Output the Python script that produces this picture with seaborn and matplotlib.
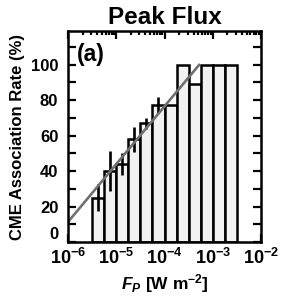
import numpy as np
import pandas as pd
import matplotlib
matplotlib.use("Agg")
import matplotlib.pyplot as plt
import seaborn as sns
from matplotlib.ticker import LogLocator, MultipleLocator, FixedLocator, NullFormatter

# ---- data ----
bin_log_range = (-5.5, -2.5)
bin_log_width = 0.25
bin_centers = [4.22e-6, 7.50e-6, 1.33e-5, 2.37e-5, 4.22e-5, 7.50e-5, 1.33e-4,
               2.37e-4, 4.22e-4, 7.50e-4, 1.33e-3, 2.37e-3]
rate = [25, 40, 44, 58, 67, 77, 77, 100, 89, 100, 100, 100]
rate_err = [7.5, 11.5, 6, 7, 3, 4.5, 0, 0, 0, 0, 0, 0]
fit_x = [1.0e-6, 5.25e-4]
fit_y = [11.3, 100.0]
xtick_vals = [1e-6, 1e-5, 1e-4, 1e-3, 1e-2]
xtick_labels = [r"$\mathbf{10^{-6}}$", r"$\mathbf{10^{-5}}$", r"$\mathbf{10^{-4}}$",
                r"$\mathbf{10^{-3}}$", r"$\mathbf{10^{-2}}$"]

sns.set_style("ticks")
plt.rcParams["font.family"] = ["Liberation Sans", "DejaVu Sans"]
plt.rcParams["font.weight"] = "bold"
plt.rcParams["mathtext.fontset"] = "custom"
plt.rcParams["mathtext.rm"] = "Liberation Sans:bold"
plt.rcParams["mathtext.bf"] = "Liberation Sans:bold"
plt.rcParams["mathtext.it"] = "Liberation Sans:bold:italic"
for key in ("text.color", "axes.labelcolor", "xtick.color", "ytick.color",
            "axes.edgecolor"):
    plt.rcParams[key] = "black"

fig = plt.figure(figsize=(2.91, 2.97), dpi=100)
ax = fig.add_axes([0.2337, 0.1852, 0.897 - 0.2337, 0.8956 - 0.1852])

df = pd.DataFrame({"flux": bin_centers, "rate": rate})
sns.histplot(data=df, x="flux", weights="rate", binwidth=bin_log_width,
             binrange=bin_log_range, log_scale=True, color="#f2f2f2",
             edgecolor="black", linewidth=1.8, alpha=1, ax=ax, zorder=1)

ax.errorbar(bin_centers, rate, yerr=rate_err, fmt="none", ecolor="black",
            elinewidth=1.9, capsize=0, zorder=3)

sns.lineplot(x=fit_x, y=fit_y, color="#707070", linewidth=1.9, ax=ax, zorder=4)

ax.set_xscale("log")
ax.set_xlim(1e-6, 1e-2)
ax.set_ylim(0, 119)

ax.xaxis.set_major_locator(FixedLocator(xtick_vals))
ax.set_xticks(xtick_vals)
ax.set_xticklabels(xtick_labels, fontsize=13)
ax.xaxis.set_minor_locator(LogLocator(base=10, subs=np.arange(2, 10)))
ax.xaxis.set_minor_formatter(NullFormatter())

ax.yaxis.set_major_locator(MultipleLocator(20))
ax.yaxis.set_minor_locator(MultipleLocator(10))

ax.tick_params(axis="both", which="both", direction="in", top=True, right=True,
               width=1.6, color="black", labelcolor="black")
ax.tick_params(axis="x", which="major", length=6, pad=4)
ax.tick_params(axis="x", which="minor", length=3, bottom=False)
ax.tick_params(axis="y", which="both", length=5.5, pad=7)
ax.tick_params(axis="y", labelsize=12)

for sp in ax.spines.values():
    sp.set_linewidth(1.8)
    sp.set_color("black")
    sp.set_zorder(5)

ax.set_title("Peak Flux", fontsize=17.5, fontweight="bold", pad=5, color="black")
ax.set_ylabel("CME Association Rate (%)", fontsize=12, fontweight="bold",
              labelpad=4, color="black")
ax.set_xlabel(r"$\mathit{F_P}$ [W m$^{\mathbf{-2}}$]", fontsize=12.5,
              fontweight="bold", labelpad=3, color="black")
ax.text(0.045, 0.945, "(a)", transform=ax.transAxes, fontsize=16.5,
        fontweight="bold", va="top", ha="left", color="black")

fig.canvas.draw()
for lab in ax.get_yticklabels():
    lab.set_fontweight("bold")
    if lab.get_position()[1] == 0:
        lab.set_va("bottom")

fig.savefig("out.png", dpi=100)
